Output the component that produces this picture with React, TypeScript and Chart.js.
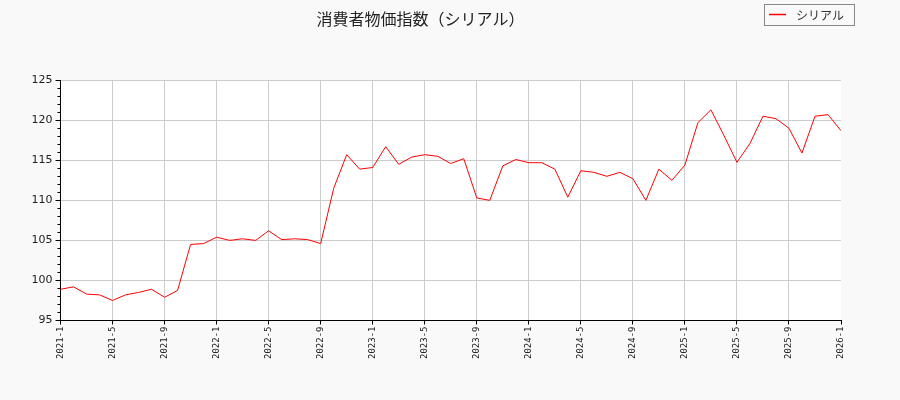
import React, { useRef, useEffect } from 'react';
import { Chart, registerables } from 'chart.js';

Chart.register(...registerables);

// Monthly labels 2021-1 .. 2026-1
const months: string[] = [];
for (let y = 2021; y <= 2026; y++) {
  for (let m = 1; m <= 12; m++) {
    if (y === 2026 && m > 1) break;
    months.push(`${y}-${m}`);
  }
}

const serialIndex = [
  98.9, 99.2, 98.3, 98.2, 97.5, 98.2, 98.5, 98.9, 97.9, 98.75, 104.5, 104.6,
  105.4, 105.0, 105.2, 105.0, 106.2, 105.1, 105.2, 105.1, 104.6, 111.5, 115.7, 113.9,
  114.1, 116.7, 114.5, 115.4, 115.7, 115.5, 114.6, 115.2, 110.3, 110.0, 114.3, 115.1,
  114.7, 114.7, 113.9, 110.4, 113.7, 113.5, 113.0, 113.5, 112.7, 110.0, 113.9, 112.5,
  114.4, 119.7, 121.3, 118.1, 114.75, 117.1, 120.5, 120.2, 119.0, 115.9, 120.5, 120.7,
  118.7,
];

const titleText = '消費者物価指数（シリアル）';
const seriesName = 'シリアル';
const yMin = 95;
const yMax = 125;

// page background + white plot area
const backgroundPlugin = {
  id: 'bg',
  beforeDraw(chart: any) {
    const { ctx, chartArea } = chart;
    ctx.save();
    ctx.fillStyle = '#f9f9f9';
    ctx.fillRect(0, 0, chart.width, chart.height);
    ctx.fillStyle = '#ffffff';
    ctx.fillRect(chartArea.left, chartArea.top, chartArea.right - chartArea.left, chartArea.bottom - chartArea.top);
    ctx.restore();
  },
};

// short minor ticks on the y axis every 1 unit
const minorTickPlugin = {
  id: 'minorTicks',
  afterDraw(chart: any) {
    const { ctx } = chart;
    const ys = chart.scales.y;
    ctx.save();
    ctx.strokeStyle = '#000';
    ctx.lineWidth = 1;
    for (let v = yMin; v <= yMax; v++) {
      if (v % 5 === 0) continue;
      const py = Math.round(ys.getPixelForValue(v)) + 0.5;
      ctx.beginPath();
      ctx.moveTo(ys.right - 3, py);
      ctx.lineTo(ys.right, py);
      ctx.stroke();
    }
    ctx.restore();
  },
};

// boxed legend at the top right
const boxLegendPlugin = {
  id: 'boxLegend',
  afterDraw(chart: any) {
    const { ctx } = chart;
    const ds = chart.data.datasets[0];
    ctx.save();
    ctx.fillStyle = '#f9f9f9';
    ctx.fillRect(764.5, 4.5, 90, 21);
    ctx.strokeStyle = '#888';
    ctx.lineWidth = 1;
    ctx.strokeRect(764.5, 4.5, 90, 21);
    ctx.strokeStyle = ds.borderColor;
    ctx.lineWidth = 1.5;
    ctx.beginPath();
    ctx.moveTo(769, 14.5);
    ctx.lineTo(786, 14.5);
    ctx.stroke();
    ctx.fillStyle = '#333';
    ctx.font = '12px "Noto Sans CJK JP"';
    ctx.textBaseline = 'middle';
    ctx.fillText(ds.label, 796, 15);
    ctx.restore();
  },
};

export default function App() {
  const canvasRef = useRef<HTMLCanvasElement | null>(null);

  useEffect(() => {
    const chart = new Chart(canvasRef.current as HTMLCanvasElement, {
      type: 'line',
      data: {
        labels: months,
        datasets: [
          {
            label: seriesName,
            data: serialIndex,
            borderColor: '#ff0000',
            borderWidth: 1,
            pointRadius: 0,
            tension: 0,
            fill: false,
          },
        ],
      },
      options: {
        responsive: false,
        animation: false,
        layout: { padding: { left: 0, right: 59, top: 0, bottom: 0 } },
        plugins: {
          legend: { display: false },
          tooltip: { enabled: false },
          title: {
            display: true,
            text: titleText,
            color: '#222',
            font: { family: '"Noto Sans CJK JP"', size: 16, weight: 'normal' },
            padding: { top: 9, bottom: 52 },
          },
        },
        scales: {
          x: {
            type: 'category',
            afterFit(scale: any) {
              scale.height = 79.5;
            },
            grid: {
              color: (c: any) => (c.index % 4 === 0 && c.index < months.length - 1 ? '#cccccc' : 'transparent'),
              tickColor: (c: any) => (c.index % 4 === 0 ? '#000' : 'transparent'),
              tickLength: 4,
            },
            border: { color: '#000', width: 1 },
            ticks: {
              autoSkip: false,
              minRotation: 90,
              maxRotation: 90,
              padding: 2,
              color: '#222',
              font: { family: '"DejaVu Sans Mono"', size: 9 },
              callback: (_v: any, i: number) => (i % 4 === 0 ? months[i] : ''),
            },
          },
          y: {
            min: yMin,
            max: yMax,
            afterFit(scale: any) {
              scale.width = 60.5;
            },
            grid: { color: '#cccccc', tickColor: '#000', tickLength: 5 },
            border: { color: '#000', width: 1 },
            ticks: {
              stepSize: 5,
              padding: 3,
              color: '#222',
              font: { family: '"DejaVu Sans"', size: 11 },
            },
          },
        },
      },
      plugins: [backgroundPlugin, minorTickPlugin, boxLegendPlugin],
    });
    return () => chart.destroy();
  }, []);

  return (
    <div style={{ position: 'absolute', left: 0, top: 0, width: 900, height: 400, background: '#f9f9f9' }}>
      <canvas ref={canvasRef} width={900} height={400} />
    </div>
  );
}
